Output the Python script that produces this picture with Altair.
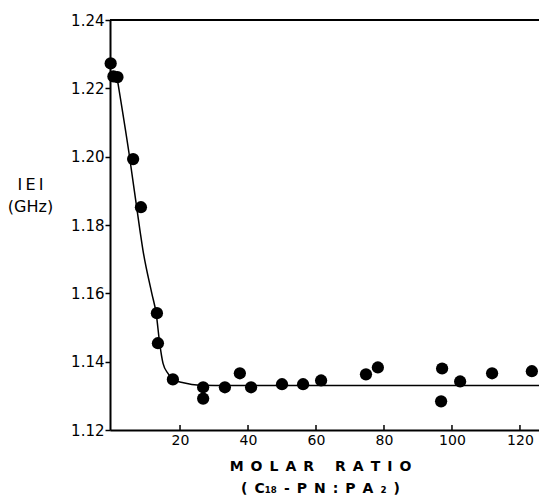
import altair as alt
import pandas as pd

# Measured points
pt_x = [-0.4, 0.4, 1.6, 6.2, 8.5, 13.2, 13.5, 17.9, 26.8, 26.8, 33.2, 37.6, 40.9,
        50.0, 56.2, 61.5, 74.7, 78.2, 97.1, 96.8, 102.4, 111.8, 123.5]
pt_y = [1.2273, 1.2235, 1.2233, 1.1993, 1.1852, 1.1542, 1.1454, 1.1348, 1.1325, 1.1292,
        1.1325, 1.1366, 1.1325, 1.1334, 1.1334, 1.1345, 1.1363, 1.1383, 1.1380, 1.1284,
        1.1342, 1.1366, 1.1372]

# Fitted curve
cv_x = [1.5, 5.0, 8.2, 9.1, 11.7, 13.0, 14.0, 15.0, 16.5, 17.9, 21.0, 25.8, 35.0, 125.6]
cv_y = [1.2230, 1.2010, 1.1785, 1.1726, 1.1600, 1.1540, 1.1455, 1.1395, 1.1365, 1.1348,
        1.1338, 1.1331, 1.1330, 1.1330]

x_ticks = [20, 40, 60, 80, 100, 120]
y_ticks = [1.12, 1.14, 1.16, 1.18, 1.20, 1.22, 1.24]

pts = pd.DataFrame({"x": pt_x, "y": pt_y})
curve = pd.DataFrame({"x": cv_x, "y": cv_y})
ticks = pd.DataFrame({"x": x_ticks})

FONT = "DejaVu Sans"
S = "\u2002"
T = "\u2009"
xtitle1 = S.join("MOLAR") + S * 3 + S.join("RATIO")
xtitle2 = "(" + S + "C\u2081\u2088" + S + "-" + S + "P" + S + "N" + S + ":" + S + "P" + S + "A" + S + "\u2082" + S + ")"

xscale = alt.Scale(domain=[-0.6, 125.6], nice=False, zero=False)
yscale = alt.Scale(domain=[1.12, 1.24], nice=False, zero=False)

xaxis = alt.Axis(
    values=x_ticks, tickSize=0, labelPadding=3, labelFontSize=14, labelFont=FONT,
    labelColor="black", domainColor="black", domainWidth=2, grid=False,
    title=[xtitle1, xtitle2],
    titleFont=FONT, titleFontSize=14, titleFontWeight="bold", titleColor="black",
    titleX=210, titleY=40, titleBaseline="alphabetic", titleLineHeight=22,
    titleAnchor="start", titleAlign="center",
)
yaxis = alt.Axis(
    values=y_ticks, format=".2f", tickSize=5, tickWidth=1.5, tickColor="black",
    labelPadding=1, labelFontSize=15, labelFont=FONT, labelColor="black",
    domainColor="black", domainWidth=2, grid=False,
    title=["I" + T + "E" + T + "I", "(GHz)"], titleAngle=0, titleFont=FONT, titleFontSize=16,
    titleFontWeight="normal", titleColor="black", titleX=-80, titleY=169,
    titleAlign="center", titleBaseline="alphabetic", titleLineHeight=22,
)

line = alt.Chart(curve).mark_line(color="black", strokeWidth=1.5, interpolate="monotone").encode(
    x=alt.X("x:Q", scale=xscale, axis=xaxis),
    y=alt.Y("y:Q", scale=yscale, axis=yaxis),
)
dots = alt.Chart(pts).mark_circle(color="black", size=150, opacity=1).encode(
    x=alt.X("x:Q", scale=xscale),
    y=alt.Y("y:Q", scale=yscale),
)
xt = alt.Chart(ticks).mark_rule(color="black", strokeWidth=1.5).encode(
    x=alt.X("x:Q", scale=xscale),
    y=alt.datum(1.12),
    y2=alt.datum(1.1215),
)
top = alt.Chart(ticks).mark_rule(color="black", strokeWidth=1.5).encode(
    y=alt.datum(1.24),
)

chart = alt.layer(line, dots, xt, top).properties(
    width=429, height=410,
    padding={"left": 102, "top": 12, "right": 0, "bottom": 67},
    autosize="none",
).configure_view(stroke=None).configure(background="white")

chart.save("out.html", embed_options={"renderer": "svg", "actions": False})
